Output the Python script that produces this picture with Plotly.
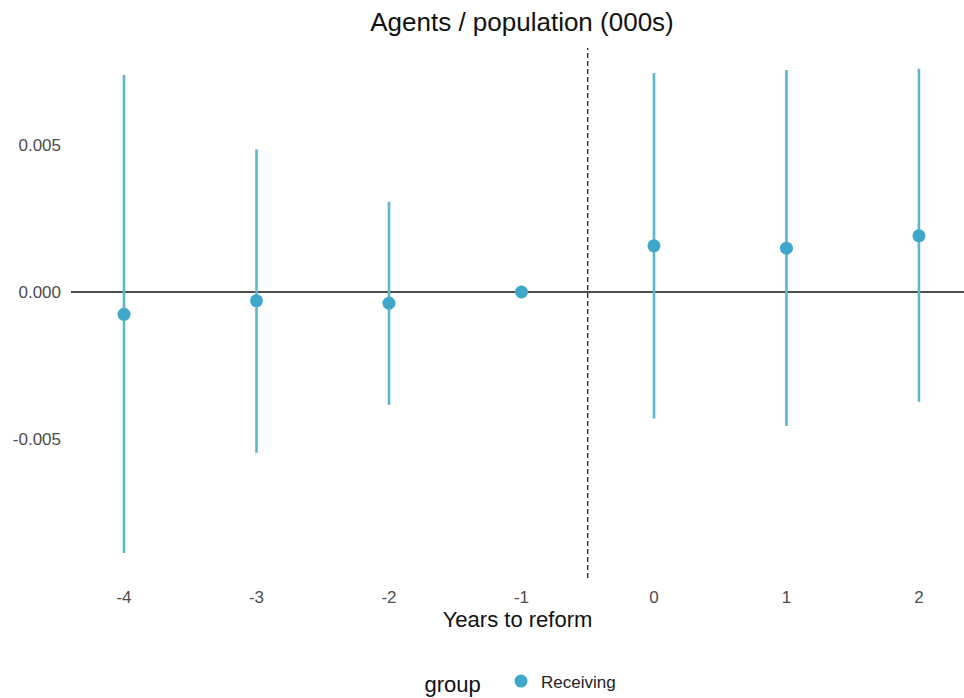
import plotly.graph_objects as go

# Event-study coefficients with 95% confidence bounds
years = [-4, -3, -2, -1, 0, 1, 2]
estimate = [-0.00076, -0.00030, -0.00038, 0.0, 0.00157, 0.00149, 0.00191]
ci_high = [0.00738, 0.00485, 0.00307, 0.0, 0.00745, 0.00755, 0.00759]
ci_low = [-0.00888, -0.00547, -0.00384, 0.0, -0.00430, -0.00456, -0.00373]

y_ticks = [-0.005, 0.0, 0.005]
y_tick_text = ["-0.005", "0.000", "0.005"]
x_ticks = years
reform_cut = -0.5

point_color = "#3FA8CA"
bar_color = "#5CB7C8"

err_plus = [h - e for h, e in zip(ci_high, estimate)]
err_minus = [e - l for e, l in zip(estimate, ci_low)]

fig = go.Figure()
fig.add_trace(go.Scatter(
    x=years, y=estimate, mode="markers", name="Receiving",
    marker=dict(color=point_color, size=13),
    error_y=dict(type="data", symmetric=False, array=err_plus, arrayminus=err_minus,
                 color=bar_color, thickness=2.6, width=0),
    showlegend=True,
))

# zero reference line
fig.add_hline(y=0, line=dict(color="#111111", width=1.4), layer="below")
# reform timing
fig.add_vline(x=reform_cut, line=dict(color="#111111", width=1.2, dash="5px,3px"))

font_family = "Liberation Sans, Arial, Helvetica, sans-serif"

fig.update_layout(
    width=964, height=698,
    margin=dict(l=71, r=0, t=48, b=120),
    paper_bgcolor="white", plot_bgcolor="white",
    font=dict(family=font_family),
    title=dict(text="Agents / population (000s)", x=522 / 964, xanchor="center",
               y=1 - 22 / 698, yanchor="middle", yref="container",
               font=dict(size=26, color="#111111")),
    xaxis=dict(range=[-4.4, 2.34], tickvals=x_ticks, ticktext=[str(v) for v in x_ticks],
               showgrid=False, zeroline=False, showline=False, ticks="",
               tickfont=dict(size=17, color="#4d4d4d"), ticklabelstandoff=7,
               title=dict(text="Years to reform", font=dict(size=22, color="#111111"), standoff=2)),
    yaxis=dict(range=[-0.00973, 0.0083], tickvals=y_ticks, ticktext=y_tick_text,
               showgrid=False, zeroline=False, showline=False, ticks="",
               tickfont=dict(size=17, color="#4d4d4d"), ticklabelstandoff=9),
    showlegend=True,
    legend=dict(orientation="h", xref="container", yref="container",
                x=522 / 964, xanchor="center", y=(698 - 683) / 698, yanchor="middle",
                title=dict(text="group  ", font=dict(size=22, color="#111111"), side="left"),
                font=dict(size=17, color="#222222")),
)

fig.write_html("out.html")
